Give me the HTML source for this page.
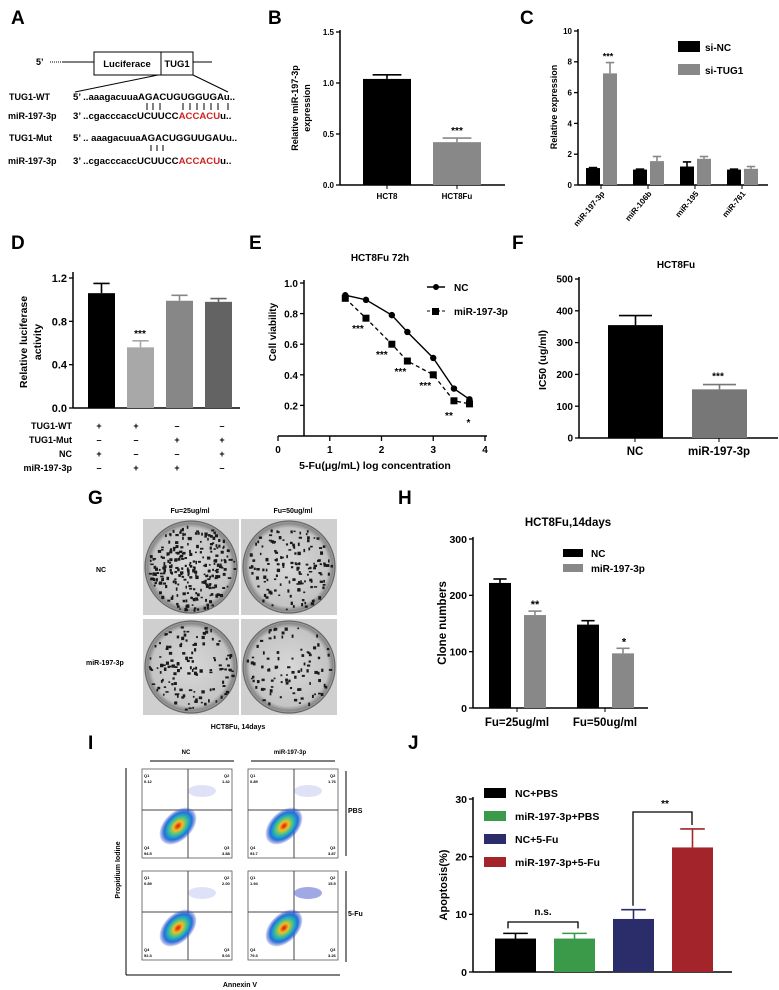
<!DOCTYPE html>
<html><head><meta charset="utf-8"><style>
body{margin:0;background:#fff}
svg{display:block;font-family:"Liberation Sans",Arial,sans-serif}
</style></head><body>
<svg id="fig" width="779" height="990" viewBox="0 0 779 990" xmlns="http://www.w3.org/2000/svg">
<defs>
<radialGradient id="flow" cx="50%" cy="50%" r="50%">
<stop offset="0" stop-color="#e01010"/><stop offset="0.25" stop-color="#f0c020"/><stop offset="0.5" stop-color="#30c0a0"/><stop offset="0.75" stop-color="#2070e0"/><stop offset="1" stop-color="#3040c0" stop-opacity="0.15"/>
</radialGradient>
<radialGradient id="plate" cx="50%" cy="50%" r="50%"><stop offset="0" stop-color="#d8d8d8"/><stop offset="0.85" stop-color="#c4c4c4"/><stop offset="0.95" stop-color="#888"/><stop offset="1" stop-color="#aaa"/></radialGradient>
</defs>
<g font-size="19" font-weight="bold">
<text x="11" y="24">A</text><text x="268" y="24">B</text><text x="520" y="24">C</text>
<text x="11" y="249">D</text><text x="249" y="249">E</text><text x="512" y="249">F</text>
<text x="88" y="504">G</text><text x="398" y="504">H</text><text x="88" y="749">I</text><text x="408" y="749">J</text>
</g>
<!-- Panel A -->
<g font-weight="bold" font-size="9">
<text x="36" y="65">5’</text><line x1="50" y1="62" x2="63" y2="62" stroke="#000" stroke-dasharray="1,1"/>
<line x1="63" y1="62" x2="94" y2="62" stroke="#000"/><rect x="94" y="52" width="67" height="23" fill="#fff" stroke="#000"/>
<rect x="161" y="52" width="32" height="23" fill="#fff" stroke="#000"/><line x1="193" y1="62" x2="212" y2="62" stroke="#000"/>
<text x="127" y="67" text-anchor="middle" font-size="9.5">Luciferace</text><text x="177" y="67" text-anchor="middle" font-size="9.5">TUG1</text>
<line x1="158" y1="75" x2="75" y2="92" stroke="#000"/><line x1="193" y1="75" x2="228" y2="92" stroke="#000"/>
<text x="9" y="100">TUG1-WT</text><text x="73" y="100" font-size="9.6">5’ ..aaagacuuaAGACUGUGGUGAu..</text>
<text x="8" y="119">miR-197-3p</text><text x="73" y="119" font-size="9.6">3’ ..cgacccaccUCUUCC<tspan fill="#d02020">ACCACU</tspan>u..</text>
<text x="9" y="141">TUG1-Mut</text><text x="73" y="141" font-size="9.6">5’ .. aaagacuuaAGACUGGUUGAUu..</text>
<text x="8" y="164">miR-197-3p</text><text x="73" y="164" font-size="9.6">3’ ..cgacccaccUCUUCC<tspan fill="#d02020">ACCACU</tspan>u..</text>
<g stroke="#000" stroke-width="1"><path d="M147 103v7M153 103v7M160 103v7M183 103v7M190 103v7M197 103v7M204 103v7M211 103v7M218 103v7M228 103v7M151 145v6M157 145v6M163 145v6"/></g>
</g>
<g id="charts"></g>
<!-- Panel G plates -->
<g font-size="7" font-weight="bold">
<text x="190" y="513" text-anchor="middle">Fu=25ug/ml</text><text x="293" y="513" text-anchor="middle">Fu=50ug/ml</text>
<text x="96" y="572">NC</text><text x="86" y="665">miR-197-3p</text>
<text x="238" y="729" text-anchor="middle">HCT8Fu, 14days</text>
<g id="plates"></g>
</g>
<!-- Panel I flow -->
<g font-size="6" font-weight="bold">
<text x="186" y="754" text-anchor="middle">NC</text><text x="290" y="754" text-anchor="middle">miR-197-3p</text>
<line x1="150" y1="761" x2="234" y2="761" stroke="#000"/><line x1="251" y1="761" x2="335" y2="761" stroke="#000"/>
<line x1="346" y1="771" x2="346" y2="856" stroke="#000"/><line x1="346" y1="871" x2="346" y2="962" stroke="#000"/>
<text x="348" y="813" font-size="7">PBS</text><text x="348" y="916" font-size="7">5-Fu</text>
<line x1="126" y1="768" x2="126" y2="975" stroke="#000"/><line x1="126" y1="975" x2="340" y2="975" stroke="#000"/>
<text x="240" y="987" text-anchor="middle" font-size="7">Annexin V</text>
<text transform="translate(120,870) rotate(-90)" text-anchor="middle" font-size="7">Propidium Iodine</text>
<g id="flows"></g>
</g>
</svg>
<script>
const NS='http://www.w3.org/2000/svg';
const root=document.getElementById('charts');
function el(tag,attrs,parent,txt){const e=document.createElementNS(NS,tag);for(const k in attrs)e.setAttribute(k,attrs[k]);if(txt!==undefined)e.textContent=txt;(parent||root).appendChild(e);return e;}

// ---- Data ----
const bCats=['HCT8','HCT8Fu'];const bVals=[1.04,0.42];const bErr=[0.04,0.04];const bTicks=[0,0.5,1.0,1.5];
const cCats=['miR-197-3p','miR-106b','miR-195','miR-761'];const cNC=[1.1,1.0,1.2,1.0];const cTUG=[7.25,1.55,1.7,1.05];const cNCerr=[0.03,0.03,0.3,0.03];const cTUGerr=[0.7,0.3,0.15,0.15];const cTicks=[0,2,4,6,8,10];
const dVals=[1.06,0.56,0.99,0.98];const dErr=[0.09,0.06,0.05,0.03];const dTicks=[0,0.4,0.8,1.2];
const eX=[1.3,1.7,2.2,2.5,3.0,3.4,3.7];const eNC=[0.92,0.89,0.79,0.68,0.51,0.31,0.24];const eMiR=[0.90,0.77,0.60,0.49,0.40,0.23,0.21];
const eXTicks=[0,1,2,3,4];const eYTicks=[0.2,0.4,0.6,0.8,1.0];
const fCats=['NC','miR-197-3p'];const fVals=[355,153];const fErr=[30,15];const fTicks=[0,100,200,300,400,500];
const hCats=['Fu=25ug/ml','Fu=50ug/ml'];const hNC=[222,148];const hMiR=[165,97];const hNCerr=[7,7];const hMiRerr=[7,9];const hTicks=[0,100,200,300];
const jCats=['NC+PBS','miR-197-3p+PBS','NC+5-Fu','miR-197-3p+5-Fu'];const jVals=[5.8,5.8,9.2,21.6];const jErr=[0.9,0.9,1.6,3.2];const jTicks=[0,10,20,30];

function lin(d0,d1,r0,r1){return v=>r0+(v-d0)*(r1-r0)/(d1-d0);}
function yAxis(g,x,y,ticks,fmt,top,fs){el('line',{x1:x,y1:top,x2:x,y2:y(0),stroke:'#000','stroke-width':1.5},g);
 ticks.forEach(t=>{el('line',{x1:x-4,y1:y(t),x2:x,y2:y(t),stroke:'#000','stroke-width':1.3},g);
 el('text',{x:x-6,y:y(t)+(fs||8)*0.36,'text-anchor':'end','font-size':fs||8,'font-weight':'bold'},g,fmt(t));});}
function bar(g,x,w,y0,yv,col,ey,name){const r=el('rect',{x:x,y:yv,width:w,height:y0-yv,fill:col},g);
 
 
 el('line',{x1:x+w/2,y1:yv,x2:x+w/2,y2:ey,stroke:col,'stroke-width':1.6},g);el('line',{x1:x+w/5,y1:ey,x2:x+4*w/5,y2:ey,stroke:col,'stroke-width':1.6},g);}
function txt(g,x,y,s,fs,anchor,rot){const a={x:x,y:y,'font-size':fs,'font-weight':'bold','text-anchor':anchor||'start'};if(rot){a.transform=`rotate(${rot} ${x} ${y})`;}return el('text',a,g,s);}

// ---- B ----
(function(){const g=el('g',{});
const y=lin(0,1.5,185,32);yAxis(g,340,y,bTicks,t=>t.toFixed(1),30);
el('line',{x1:340,y1:185,x2:505,y2:185,stroke:'#000','stroke-width':1.5},g);
const cols=['#000','#888'];const xs=[363,433];
bCats.forEach((c,i)=>{const x=xs[i];bar(g,x,48,185,y(bVals[i]),cols[i],y(bVals[i]+bErr[i]),'bar-'+c.toLowerCase());
 el('line',{x1:x+24,y1:185,x2:x+24,y2:189,stroke:'#000'},g);txt(g,x+24,199,c,8,'middle');});
txt(g,457,y(bVals[1]+bErr[1])-4,'***',10,'middle');
txt(g,298,108,'Relative miR-197-3p',9,'middle',-90);txt(g,310,108,'expression',9,'middle',-90);})();

// ---- C ----
(function(){const g=el('g',{});
const y=lin(0,10,185,31);yAxis(g,578,y,cTicks,t=>String(t),29);
el('line',{x1:578,y1:185,x2:768,y2:185,stroke:'#000','stroke-width':1.5},g);
cCats.forEach((c,i)=>{const x=586+i*47;bar(g,x,14,185,y(cNC[i]),'#000',y(cNC[i]+cNCerr[i]),'bar-si-nc-'+c);
 bar(g,x+17,14,185,y(cTUG[i]),'#888',y(cTUG[i]+cTUGerr[i]),'bar-si-tug1-'+c);
 el('line',{x1:x+15,y1:185,x2:x+15,y2:189,stroke:'#000'},g);
 txt(g,x+19,194,c,8,'end',-50);});
txt(g,608,y(cTUG[0]+cTUGerr[0])-3,'***',9,'middle');
txt(g,557,107,'Relative expression',9,'middle',-90);
el('rect',{x:678,y:41,width:22,height:11,fill:'#000'},g);el('rect',{x:678,y:64,width:22,height:11,fill:'#888'},g);
txt(g,705,51,'si-NC',10);txt(g,705,74,'si-TUG1',10);})();

// ---- D ----
(function(){const g=el('g',{});
const y=lin(0,1.2,408,278);yAxis(g,73,y,dTicks,t=>t.toFixed(1),272,11);
el('line',{x1:73,y1:408,x2:240,y2:408,stroke:'#000','stroke-width':1.5},g);
const cols=['#000','#a8a8a8','#878787','#636363'];const xs=[88,127,166,205];
dVals.forEach((v,i)=>{bar(g,xs[i],27,408,y(v),cols[i],y(v+dErr[i]),'bar-d-'+i);});
txt(g,140,y(dVals[1]+dErr[1])-4,'***',10,'middle');
txt(g,27,342,'Relative luciferase',10.5,'middle',-90);txt(g,41,342,'activity',10.5,'middle',-90);
const rows=['TUG1-WT','TUG1-Mut','NC','miR-197-3p'];const signs=[['+','+','–','–'],['–','–','+','+'],['+','–','–','+'],['–','+','+','–']];
const sx=[99,136,177,222];
rows.forEach((r,j)=>{txt(g,72,429+j*14,r,9,'end');signs[j].forEach((s,i)=>txt(g,sx[i],429+j*14,s,9,'middle'));});})();

// ---- E ----
(function(){const g=el('g',{});
const x=lin(0,4,278,485),y=lin(0,1,436,283);
el('line',{x1:304,y1:280,x2:304,y2:436,stroke:'#000','stroke-width':1.5},g);el('line',{x1:278,y1:436,x2:487,y2:436,stroke:'#000','stroke-width':1.5},g);
eYTicks.forEach(t=>{el('line',{x1:300,y1:y(t),x2:304,y2:y(t),stroke:'#000','stroke-width':1.3},g);txt(g,298,y(t)+4,t.toFixed(1),10,'end');});
eXTicks.forEach(t=>{el('line',{x1:x(t),y1:436,x2:x(t),y2:441,stroke:'#000','stroke-width':1.3},g);txt(g,x(t),453,String(t),10,'middle');});
const p1=el('polyline',{points:eX.map((v,i)=>x(v)+','+y(eNC[i])).join(' '),fill:'none',stroke:'#000','stroke-width':1.4},g);

const p2=el('polyline',{points:eX.map((v,i)=>x(v)+','+y(eMiR[i])).join(' '),fill:'none',stroke:'#000','stroke-width':1.3,'stroke-dasharray':'4,3'},g);

eX.forEach((v,i)=>{const c=el('circle',{cx:x(v),cy:y(eNC[i]),r:3.2,fill:'#000'},g);
 const s=el('rect',{x:x(v)-3.5,y:y(eMiR[i])-3.5,width:7,height:7,fill:'#000'},g);});
const stars=['','***','***','***','***','**','*'];const sdx=[0,-8,-10,-7,-8,-5,-1],sdy=[0,14,14,14,14,18,22];
eX.forEach((v,i)=>{if(stars[i])txt(g,x(v)+sdx[i],y(eMiR[i])+sdy[i],stars[i],10,'middle');});
txt(g,380,261,'HCT8Fu 72h',10,'middle');
el('line',{x1:427,y1:287,x2:445,y2:287,stroke:'#000','stroke-width':1.4},g);el('circle',{cx:436,cy:287,r:3},g);txt(g,454,291,'NC',10);
el('line',{x1:427,y1:311,x2:445,y2:311,stroke:'#000','stroke-dasharray':'3,2'},g);el('rect',{x:432,y:308,width:7,height:7},g);txt(g,454,315,'miR-197-3p',10);
txt(g,276,332,'Cell viability',10,'middle',-90);
txt(g,375,469,'5-Fu(μg/mL)  log concentration',10.5,'middle');})();

// ---- F ----
(function(){const g=el('g',{});
const y=lin(0,500,438,279);yAxis(g,579,y,fTicks,t=>String(t),277,10);
el('line',{x1:579,y1:438,x2:778,y2:438,stroke:'#000','stroke-width':1.5},g);
const cols=['#000','#777'];const xs=[608,692];
fCats.forEach((c,i)=>{const x=xs[i];bar(g,x,55,438,y(fVals[i]),cols[i],y(fVals[i]+fErr[i]),'bar-f-'+c);
 el('line',{x1:x+27,y1:438,x2:x+27,y2:442,stroke:'#000'},g);txt(g,x+27,455,c,11.5,'middle');});
txt(g,718,y(fVals[1]+fErr[1])-5,'***',10,'middle');
txt(g,676,268,'HCT8Fu',10,'middle');
txt(g,546,360,'IC50 (ug/ml)',10.5,'middle',-90);})();

// ---- H ----
(function(){const g=el('g',{});
const y=lin(0,300,708,539);yAxis(g,473,y,hTicks,t=>String(t),537,10.5);
el('line',{x1:473,y1:708,x2:648,y2:708,stroke:'#000','stroke-width':1.5},g);
const xs=[489,577];
hCats.forEach((c,i)=>{const x=xs[i];bar(g,x,22,708,y(hNC[i]),'#000',y(hNC[i]+hNCerr[i]),'bar-h-nc-'+i);
 bar(g,x+35,22,708,y(hMiR[i]),'#888',y(hMiR[i]+hMiRerr[i]),'bar-h-mir-'+i);
 el('line',{x1:x+28,y1:708,x2:x+28,y2:712,stroke:'#000'},g);
 txt(g,x+28,726,c,11.5,'middle');});
txt(g,535,y(hMiR[0]+hMiRerr[0])-3,'**',11,'middle');
txt(g,624,y(hMiR[1]+hMiRerr[1])-3,'*',11,'middle');
txt(g,568,526,'HCT8Fu,14days',11.5,'middle');
el('rect',{x:563,y:549,width:20,height:8,fill:'#000'},g);el('rect',{x:563,y:564,width:20,height:8,fill:'#888'},g);
txt(g,591,557,'NC',10);txt(g,591,572,'miR-197-3p',10);
txt(g,446,623,'Clone numbers',11.5,'middle',-90);})();

// ---- J ----
(function(){const g=el('g',{});
const y=lin(0,30,972,799);yAxis(g,473,y,jTicks,t=>String(t),797,10.5);
el('line',{x1:473,y1:972,x2:732,y2:972,stroke:'#000','stroke-width':1.5},g);
const cols=['#000','#3a9a4a','#2b2d6b','#a3242a'];const xs=[495,554,613,672];
jVals.forEach((v,i)=>{bar(g,xs[i],41,972,y(v),cols[i],y(v+jErr[i]),'bar-j-'+i);
 el('rect',{x:484,y:788+i*23,width:22,height:10,fill:cols[i]},g);txt(g,515,797+i*23,jCats[i],10.5);});
el('path',{d:`M508 ${y(jVals[0]+jErr[0])-5}V922H578V${y(jVals[1]+jErr[1])-5}`,fill:'none',stroke:'#000','stroke-width':1.3},g);
txt(g,543,915,'n.s.',10,'middle');
el('path',{d:`M633 ${y(jVals[2]+jErr[2])-4}V812H692V${y(jVals[3]+jErr[3])-4}`,fill:'none',stroke:'#000','stroke-width':1.3},g);
txt(g,665,807,'**',10,'middle');
txt(g,447,885,'Apoptosis(%)',11,'middle',-90);})();

// ---- plates ----
(function(){const g=document.getElementById('plates');let s=7;const r=()=>{s=(s*9301+49297)%233280;return s/233280;};
[[143,519,1],[241,519,0.55],[143,619,0.5],[241,619,0.35]].forEach(([x,y,d])=>{
 el('rect',{x:x,y:y,width:96,height:96,fill:'#cfcfcf'},g);
 const cx=x+48,cy=y+48;
 el('circle',{cx:cx,cy:cy,r:46,fill:'url(#plate)',stroke:'#666','stroke-width':1.2},g);
 const n=Math.round(260*d);for(let k=0;k<n;k++){const a=r()*6.283,rr=Math.sqrt(r())*43;el('rect',{x:cx+rr*Math.cos(a),y:cy+rr*Math.sin(a),width:1.5+r()*2,height:1.5+r()*2,fill:'#1a1a1a'},g);}});})();

// ---- flow plots ----
(function(){const g=document.getElementById('flows');
const boxes=[[142,769,['0.12','1.42','94.5','3.88'],0.2],[248,769,['0.89','1.76','93.7','3.87'],0.2],[142,871,['0.89','2.00','92.3','5.03'],0.2],[248,871,['1.94','15.5','79.3','3.26'],0.6]];
boxes.forEach(([x,y,q,o])=>{el('rect',{x:x,y:y,width:90,height:89,fill:'#fff',stroke:'#555','stroke-width':0.8},g);
 el('line',{x1:x+46,y1:y,x2:x+46,y2:y+89,stroke:'#444'},g);el('line',{x1:x,y1:y+41,x2:x+90,y2:y+41,stroke:'#444'},g);
 el('ellipse',{cx:x+36,cy:y+57,rx:22,ry:14,fill:'url(#flow)',transform:`rotate(-45 ${x+36} ${y+57})`},g);
 el('ellipse',{cx:x+60,cy:y+22,rx:14,ry:6,fill:'#6070d0','fill-opacity':o},g);
 el('text',{x:x+2,y:y+8,'font-size':4},g,'Q1');el('text',{x:x+2,y:y+14,'font-size':4},g,q[0]);
 el('text',{x:x+82,y:y+8,'font-size':4},g,'Q2');el('text',{x:x+80,y:y+14,'font-size':4},g,q[1]);
 el('text',{x:x+2,y:y+80,'font-size':4},g,'Q4');el('text',{x:x+2,y:y+86,'font-size':4},g,q[2]);
 el('text',{x:x+82,y:y+80,'font-size':4},g,'Q3');el('text',{x:x+80,y:y+86,'font-size':4},g,q[3]);});})();
</script>
</body></html>
